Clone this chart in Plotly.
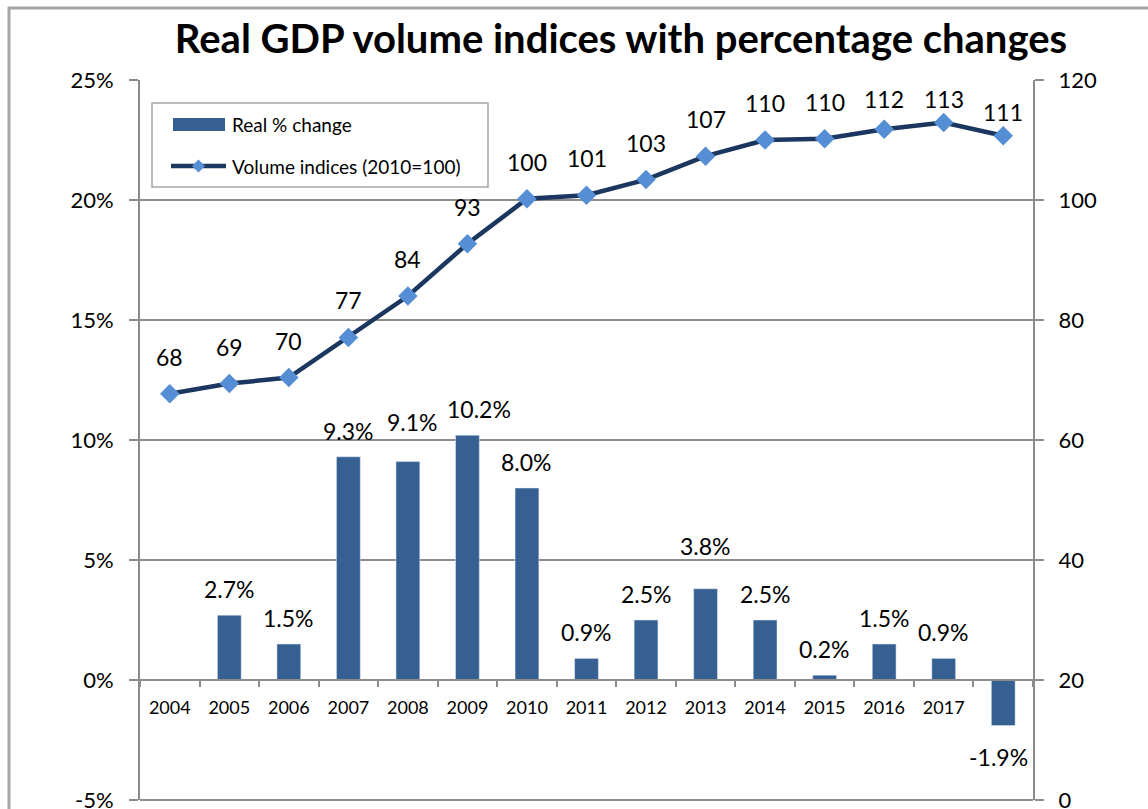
import plotly.graph_objects as go

# ---- data ----
categories = ["2004", "2005", "2006", "2007", "2008", "2009", "2010", "2011",
              "2012", "2013", "2014", "2015", "2016", "2017", "2018"]
tick_labels = ["2004", "2005", "2006", "2007", "2008", "2009", "2010", "2011",
               "2012", "2013", "2014", "2015", "2016", "2017", ""]
pct_change = [None, 2.7, 1.5, 9.3, 9.1, 10.2, 8.0, 0.9, 2.5, 3.8, 2.5, 0.2, 1.5, 0.9, -1.9]
volume_index = [67.7, 69.4, 70.4, 77.1, 84.0, 92.7, 100.2, 100.8, 103.4, 107.3,
                110.0, 110.2, 111.8, 112.9, 110.7]
left_ticks = [-5, 0, 5, 10, 15, 20, 25]
right_ticks = [0, 20, 40, 60, 80, 100, 120]
legend_names = ["Real % change", "Volume indices (2010=100)"]

# ---- styling ----
FONT = "Lato"
BAR_COLOR = "#376092"
LINE_COLOR = "#1B365F"
MARKER_COLOR = "#558ED5"
GRID = "#8C8C8C"
W, H = 1148, 809
L, R, T, B = 140, 115, 80, 9
PW, PH = W - L - R, H - T - B


def px(xpix):
    return (xpix - L) / PW


def py(ypix):
    return (H - B - ypix) / PH


bar_label_gap = {"2008": 40, "2013": 43}
bar_label_xshift = {"2008": 5, "2009": 12, "2018": -5}
line_label_gap = {"2016": 30, "2017": 24, "2018": 24}

fig = go.Figure()
fig.add_trace(go.Bar(
    x=categories, y=pct_change, name=legend_names[0],
    marker=dict(color=BAR_COLOR), width=0.4, yaxis="y", showlegend=False,
))
fig.add_trace(go.Scatter(
    x=categories, y=volume_index, name=legend_names[1],
    mode="lines+markers",
    line=dict(color=LINE_COLOR, width=4.5),
    marker=dict(symbol="diamond", size=15, color=MARKER_COLOR),
    yaxis="y2", showlegend=False,
))

annotations = []
for i, (c, v) in enumerate(zip(categories, pct_change)):
    if v is None:
        continue
    gap = bar_label_gap.get(c, 26)
    annotations.append(dict(
        x=i, y=v, xref="x", yref="y", text=f"{v:.1f}%", showarrow=False,
        yanchor="middle", yshift=gap if v >= 0 else -31,
        xshift=bar_label_xshift.get(c, 0),
        font=dict(family=FONT, size=23, color="black"),
    ))
for i, (c, v) in enumerate(zip(categories, volume_index)):
    gap = line_label_gap.get(c, 37)
    annotations.append(dict(
        x=i, y=v, xref="x", yref="y2", text=f"{round(v)}", showarrow=False,
        yanchor="middle", yshift=gap,
        font=dict(family=FONT, size=23, color="black"),
    ))

# custom legend texts
for name, ycen in zip(legend_names, [124, 166]):
    annotations.append(dict(
        x=px(230), y=py(ycen), xref="paper", yref="paper", text=name,
        showarrow=False, xanchor="left", yanchor="middle",
        font=dict(family=FONT, size=19, color="black"),
    ))

dx, dy = 6.5 / PW, 6.5 / PH
shapes = [
    # legend box
    dict(type="rect", xref="paper", yref="paper",
         x0=px(152), x1=px(488), y0=py(187), y1=py(103),
         line=dict(color="#A6A6A6", width=1.5), fillcolor="white", layer="below"),
    # legend bar swatch
    dict(type="rect", xref="paper", yref="paper",
         x0=px(173), x1=px(225), y0=py(131), y1=py(118),
         line=dict(width=0), fillcolor=BAR_COLOR),
    # legend line swatch
    dict(type="line", xref="paper", yref="paper",
         x0=px(171), x1=px(226), y0=py(166), y1=py(166),
         line=dict(color=LINE_COLOR, width=4.5)),
    dict(type="path", xref="paper", yref="paper",
         path=f"M {px(198.5) - dx},{py(166)} L {px(198.5)},{py(166) + dy} "
              f"L {px(198.5) + dx},{py(166)} L {px(198.5)},{py(166) - dy} Z",
         line=dict(width=0), fillcolor=MARKER_COLOR),
    # bottom plot border (-5% line)
    dict(type="line", xref="paper", yref="paper", x0=0, x1=1, y0=0, y1=0,
         line=dict(color=GRID, width=2)),
    # outer chart border
    dict(type="path", xref="paper", yref="paper",
         path=f"M {px(9)},{py(900)} L {px(9)},{py(8)} L {px(1300)},{py(8)}",
         line=dict(color="#A6A6A6", width=3)),
]

fig.update_layout(
    width=W, height=H,
    margin=dict(l=L, r=R, t=T, b=B, autoexpand=False),
    paper_bgcolor="white", plot_bgcolor="white",
    font=dict(family=FONT, color="black"),
    title=dict(text="<b>Real GDP volume indices with percentage changes</b>",
               x=621 / W, xanchor="center", xref="container",
               y=1 - 39 / H, yanchor="middle", yref="container",
               font=dict(family=FONT, size=40, color="black")),
    showlegend=False,
    xaxis=dict(type="category", anchor="free", position=1 / 6,
               tickmode="array", tickvals=categories, ticktext=tick_labels,
               showline=True, linecolor=GRID, linewidth=2,
               ticks="outside", ticklen=6, tickwidth=2, tickcolor=GRID,
               tickson="boundaries", showgrid=False, zeroline=False,
               ticklabelstandoff=11, automargin=False,
               tickfont=dict(family=FONT, size=18, color="black"),
               range=[-0.5, 14.5]),
    yaxis=dict(range=[-5, 25], tickmode="array", tickvals=left_ticks,
               ticktext=[f"{t}%" for t in left_ticks],
               showline=True, linecolor=GRID, linewidth=2,
               ticks="outside", ticklen=9, tickwidth=2, tickcolor=GRID,
               showgrid=True, gridcolor=GRID, gridwidth=2, zeroline=False,
               ticklabelstandoff=11, ticklabeloverflow="allow", automargin=False,
               tickfont=dict(family=FONT, size=22, color="black")),
    yaxis2=dict(range=[0, 120], tickmode="array", tickvals=right_ticks,
                overlaying="y", side="right", anchor="x",
                showline=True, linecolor=GRID, linewidth=2,
                ticks="outside", ticklen=9, tickwidth=2, tickcolor=GRID,
                showgrid=False, zeroline=False,
                ticklabelstandoff=10, ticklabeloverflow="allow", automargin=False,
                tickfont=dict(family=FONT, size=22, color="black")),
    annotations=annotations,
    shapes=shapes,
)

fig.write_html("out.html", config={"displayModeBar": False},
               post_script="document.body.style.margin='0';document.body.style.overflow='hidden';")
